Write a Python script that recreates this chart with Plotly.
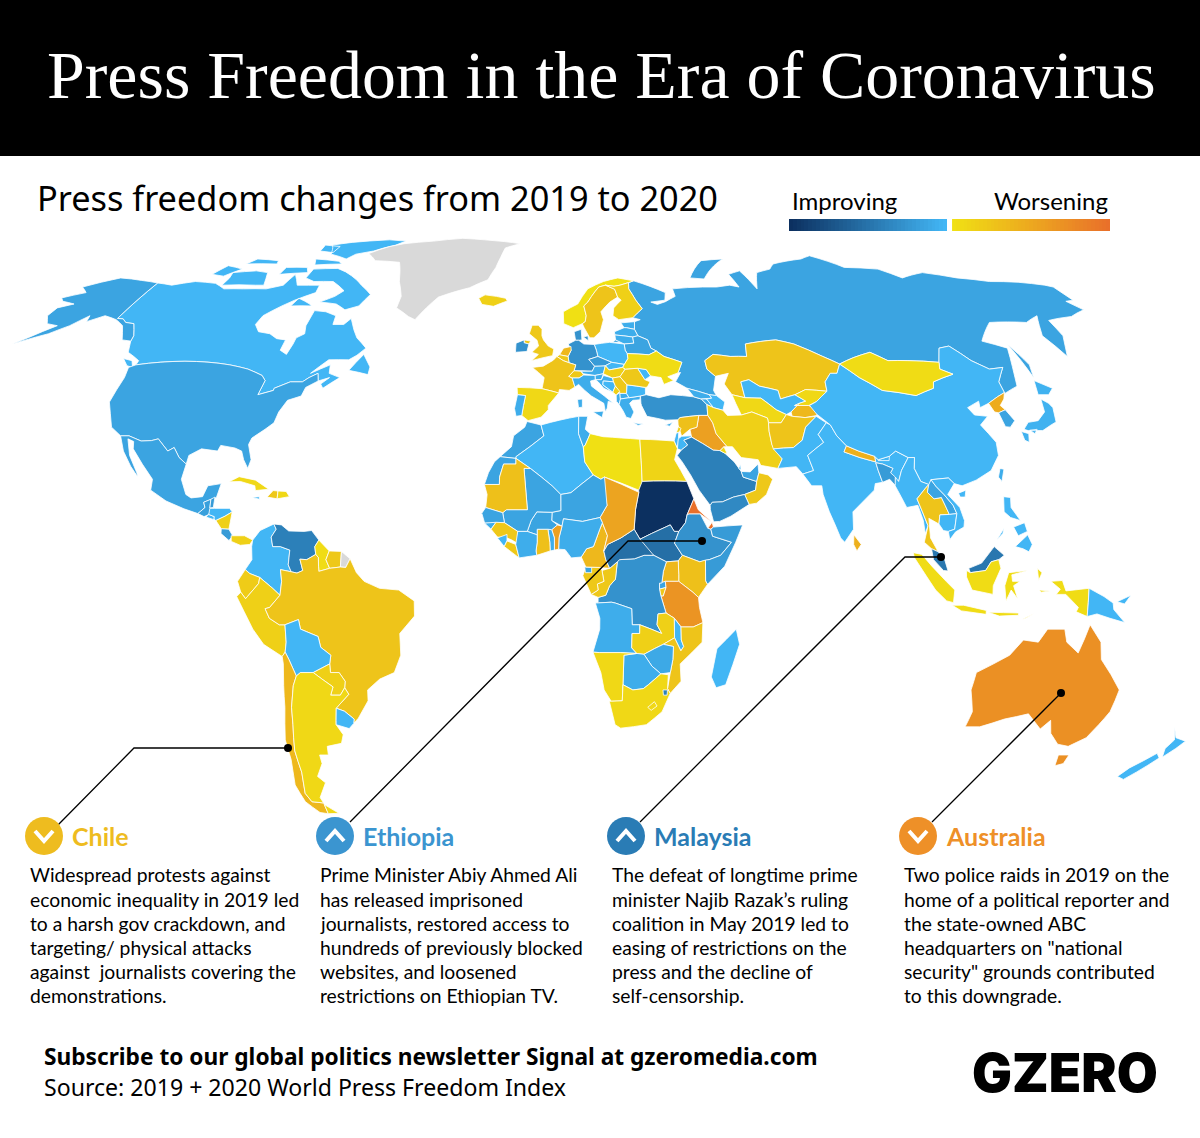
import plotly.graph_objects as go
from plotly.colors import sample_colorscale

W, H = 1200, 1138
IMPROVE_SCALE = [[0, "#42b6f5"], [1, "#0c3060"]]
WORSEN_SCALE = [[0, "#f0e014"], [1, "#e9702a"]]
NO_DATA = "#d9d9d9"

# estimated change per country, positive = improving, None = no data
CHANGE = {
    "Canada": 1, "United States": 3, "Mexico": 3, "Greenland": None, "Guatemala": 3.5, "Belize": 4, "El Salvador": 1,
    "Honduras": 1, "Nicaragua": -3, "Costa Rica": 4, "Panama": -3, "Cuba": -2, "Haiti": -4, "Dominican Republic": -2,
    "Jamaica": 1, "Colombia": 1, "Venezuela": 7, "Guyana": -1.5, "Suriname": -4, "French Guiana": None, "Ecuador": -3.5,
    "Peru": -3, "Brazil": -4.5, "Bolivia": 1, "Paraguay": -3, "Chile": -6, "Argentina": -2, "Uruguay": 1,
    "Iceland": -3, "Norway": -1, "Sweden": -4.5, "Finland": -3, "Denmark": 5, "Estonia": 2, "Latvia": 2, "Lithuania": 2,
    "Belarus": 3, "Poland": 1, "Germany": 5, "Netherlands": -6, "Belgium": -4, "France": -4.5, "Switzerland": -4,
    "Austria": 2, "Czechia": 4, "Slovakia": 1, "Hungary": -3, "Slovenia": 2, "Italy": 2, "Croatia": 2, "Bosnia": 1,
    "Serbia": -4, "Montenegro": -3, "Albania": 2, "North Macedonia": 2, "Greece": 2, "Bulgaria": 1, "Romania": -4,
    "Moldova": 1, "Ukraine": -1.5, "United Kingdom": -4, "Ireland": 5, "Spain": -2, "Portugal": 2, "Cyprus": 2,
    "Russia": 3, "Turkey": 5, "Georgia": 2, "Armenia": 2, "Azerbaijan": 1, "Kazakhstan": -4.5, "Uzbekistan": 1,
    "Turkmenistan": -2, "Kyrgyzstan": -2, "Tajikistan": -6, "Iran": -3, "Iraq": -9, "Syria": -5, "Lebanon": -3,
    "Israel": 1, "Jordan": 1, "Saudi Arabia": 7, "Kuwait": -2, "Qatar": 1, "UAE": 3, "Oman": -4, "Yemen": 6,
    "Afghanistan": -4.5, "Pakistan": 1, "India": 1, "Nepal": -7, "Bhutan": 1, "Bangladesh": 4, "Sri Lanka": -7,
    "China": 1, "Taiwan": 2, "Mongolia": -1.5, "North Korea": -7.5, "South Korea": 3, "Japan": 1.5, "Myanmar": 1,
    "Thailand": -4.5, "Laos": 3, "Cambodia": 1, "Vietnam": 1, "Malaysia": 8, "Indonesia": -1.5, "Papua New Guinea": 1,
    "Philippines": 1, "Australia": -11, "New Zealand": 1, "Madagascar": 1, "Morocco": 3, "Western Sahara": 3,
    "Algeria": 1, "Tunisia": 2, "Libya": -1, "Egypt": -2.5, "Sudan": 16, "South Sudan": 9, "Eritrea": -15,
    "Djibouti": -15, "Ethiopia": 5, "Somalia": 4, "Kenya": -5, "Uganda": -6, "Rwanda": 3, "Burundi": -4, "Tanzania": -10.5,
    "DR Congo": 5, "Congo": -4, "Gabon": -4, "Equatorial Guinea": 3, "Cameroon": -6, "Central African Rep.": 9,
    "Chad": -8.5, "Niger": 3, "Nigeria": 2, "Benin": -9, "Togo": 2, "Ghana": -5, "Burkina Faso": 3, "Mali": 3,
    "Mauritania": -5, "Senegal": 3, "Guinea-Bissau": 2, "Guinea": -4, "Sierra Leone": 1, "Liberia": -4,
    "Ivory Coast": 2, "Angola": 2, "Zambia": -3, "Malawi": 1, "Mozambique": -4.5, "Zimbabwe": 2.5, "Botswana": 2,
    "Namibia": -2, "South Africa": -2, "Lesotho": -2, "Eswatini": 7,
}

# rough country outlines as "lon,lat" rings, one string per ring
OUTLINES = {
    "Canada": [
        "-141,69.6 -135,69 -128,70 -120,69.5 -115,68 -108,68 -100,68 -95,69 -94,72 -90,69 -86,69 -82,69 -81.5,67 -87,65 -90,63.5 -94,61 -94.5,58.8 -92,57 -88,56.5 -85,55.3 -82,55 -82,52.5 -79.5,51.5 -79,54 -79,55.5 -77,56.5 -78,58.5 -78,62.3 -74,62 -70,61 -69.5,58.8 -66,58.8 -64.5,60.3 -62,57.5 -60,55.5 -56,53 -58,51.3 -60,50.2 -66,50.2 -70,47 -65,49 -64.5,47 -61,46 -65,43.5 -66,44.5 -64,46 -67,45.2 -67.8,47 -70,46 -71.5,45 -75,45 -79,43.5 -79,43 -83,42 -82.5,45.3 -84,46.5 -89,48 -95,49 -123,49 -123,50 -128,52 -130,54.7 -130.5,56 -134,59 -137,59.3 -139,60.2 -141,60.3",
        "-62,66.5 -64,63.5 -68,62.5 -72,64 -78,64.5 -74,66 -72,67.5 -78,70 -85,70 -89,71 -89,73.5 -80,73.7 -76,72.7 -70,70.5 -67,69",
        "-62,82.5 -70,83 -85,82 -92,81 -88,78 -80,76.5 -78,78 -72,79 -65,81",
        "-105,69 -117,69 -117,71 -118,72.5 -110,73 -105,72.5 -102,69",
        "-125,72 -120,71.5 -116,73.5 -123,74.5",
        "-80,75 -90,74.7 -92,76.5 -82,75.8",
        "-88,80.5 -95,81 -94,79 -88,78.5",
        "-105,75 -117,75 -115,76.5 -106,76",
        "-90,72.5 -100,72 -100,74 -92,74",
        "-80,63.5 -87,63.5 -86,65.5 -81,64",
        "-59,47.7 -53,46.7 -53,48.5 -56,51.5",
        "-128,50.5 -125,50 -123.5,48.4 -125.5,48.8",
    ],
    "United States": [
        "-123,49 -95,49 -89,48 -84,46.5 -82.5,45.3 -83,42 -79,43 -79,43.5 -75,45 -71.5,45 -70,46 -67.8,47 -67,45.2 -70,43.7 -70.5,41.7 -74,40.7 -75.5,38 -76,35.5 -78,34 -81,32 -81.5,30.5 -80,27 -80.5,25 -82,27 -83,29 -85,29.7 -89,30.3 -89.5,29 -94,29.5 -97,28 -97.2,26 -99.5,27.5 -101.5,29.8 -103,29 -106.5,31.8 -108.2,31.4 -111,31.3 -114.8,32.5 -117.1,32.5 -120.5,34.5 -122.5,37.7 -124.3,40.3 -124,46 -124.7,48.4",
        "-141,69.6 -141,60.3 -139,60.2 -137,59.3 -134,59 -130.5,56 -130,54.7 -133,55 -137,58.5 -141,60 -146,61 -150,59.5 -151,61 -154,58.5 -158,56.5 -163,55 -166,54 -163,55.6 -158,58.5 -162,59 -165,61 -165,63 -161,64 -166,64.7 -168,65.6 -162,67 -166,68.5 -157,71 -148,70.3",
    ],
    "Mexico": ["-117.1,32.5 -114.8,32.5 -111,31.3 -108.2,31.4 -106.5,31.8 -103,29 -101.5,29.8 -99.5,27.5 -97.2,26 -97.8,22.5 -96,19 -94.5,18.2 -91.5,18.5 -90.5,21 -87,21.5 -87.8,18.3 -89,17.9 -91,17.2 -90.5,16 -92.2,14.6 -96,15.7 -101,17.5 -105.5,20 -105.5,22.5 -109,26 -112.5,29.5 -113,31.2 -114.8,31.8 -113,28 -110,24 -109.5,23 -112,25.5 -115,29"],
    "Greenland": ["-73,78.2 -68,76 -58,75.5 -54,70 -51,66 -51,63 -46,60.8 -43.5,60 -41,63 -38,65.8 -28,68.3 -22,70.5 -20,74 -19,77 -18,80 -12,81.5 -28,83 -38,83.6 -50,82.5 -62,81.5 -67,80.5"],
    "Guatemala": ["-92.2,14.6 -90.5,16 -91,17.2 -89.2,17.9 -89.2,15.9 -88.3,15.7 -89.5,14.3 -90.5,13.9"],
    "Belize": ["-89.2,17.9 -88.2,18.4 -88.3,16 -89.2,15.9"],
    "El Salvador": ["-90,13.8 -89.3,14.4 -87.8,13.9 -87.8,13.2"],
    "Honduras": ["-89.3,14.4 -89.2,15.8 -88,15.8 -84,15.8 -83.2,15 -85,14 -87.3,13 -87.8,13.3 -87.8,13.9"],
    "Nicaragua": ["-87.3,13 -85,14 -83.2,15 -83.7,11 -85.7,11.1"],
    "Costa Rica": ["-85.7,11.1 -83.7,11 -82.6,9.5 -83.5,8.4 -85.7,10"],
    "Panama": ["-83,9.5 -82.9,8.2 -80.5,7.3 -78,7.5 -77.3,8.5 -79.5,9.5"],
    "Cuba": ["-85,21.9 -82.5,23.1 -78,22.3 -74.2,20.2 -77.7,19.9 -78,21 -82,22"],
    "Haiti": ["-74.4,18.4 -71.7,18 -71.7,19.8 -73,19.9"],
    "Dominican Republic": ["-71.7,18 -68.5,18.5 -69.5,19.7 -71.7,19.8"],
    "Jamaica": ["-78.4,18.3 -76.3,17.9 -76.5,18.5"],
    "Colombia": ["-77.3,8.5 -75.5,10.7 -72,12.2 -71.3,11 -72.5,9.2 -72,7 -70,7 -67.5,6.2 -67.8,2.8 -67,1.2 -69.8,1.7 -69.5,-1 -70,-4.2 -72,-2.5 -75.2,-0.1 -77.8,0.8 -79,1.7 -77.3,4 -77.5,7"],
    "Venezuela": ["-72,12.2 -70,12 -68,10.6 -64,10.5 -62,10.7 -60,8.5 -61,7 -60.7,5.2 -63,4 -64.8,4.1 -64,1.5 -65.5,0.9 -67,1.2 -67.8,2.8 -67.5,6.2 -70,7 -72,7 -72.5,9.2 -71.3,11"],
    "Guyana": ["-60,8.5 -57.2,6 -58,4 -57,2 -59.8,1.3 -59.9,2.5 -60,4.5 -60.7,5.2 -61,7"],
    "Suriname": ["-57.2,6 -54,5.9 -54.2,2.3 -57,2 -58,4"],
    "French Guiana": ["-54,5.9 -51.7,4.2 -52.8,2.2 -54.2,2.3"],
    "Ecuador": ["-80.2,-3.5 -81,-1 -79,1.7 -77.8,0.8 -75.2,-0.1 -75.5,-1.5 -78.5,-4.5 -79,-5"],
    "Peru": ["-81.3,-4.5 -80.2,-3.5 -79,-5 -78.5,-4.5 -75.5,-1.5 -75.2,-0.1 -72,-2.5 -70,-4.2 -72.8,-7 -74,-7.3 -73,-9.5 -70.5,-11 -69,-11 -69,-15 -69.5,-17.3 -70.4,-18.3 -75,-15.5 -77.5,-12 -79.5,-8"],
    "Brazil": ["-51.7,4.2 -50,1 -48,-1 -44,-2.6 -39,-3 -35,-5.5 -35,-9 -39,-13 -39,-18 -41,-22 -45,-23.5 -48.5,-26 -48.7,-28.5 -52,-32.5 -53.5,-33.7 -53.2,-32.7 -55.5,-30.9 -57.6,-30.2 -53.7,-27 -54.6,-25.5 -54.3,-24 -55.7,-22 -58,-22 -58,-20 -57.5,-18 -60,-16.2 -60.5,-13.7 -65,-12 -65.4,-9.8 -69,-11 -70.5,-11 -73,-9.5 -74,-7.3 -72.8,-7 -70,-4.2 -69.5,-1 -69.8,1.7 -67,1.2 -65.5,0.9 -64,1.5 -64.8,4.1 -63,4 -60.7,5.2 -60,4.5 -59.9,2.5 -59.8,1.3 -57,2 -54.2,2.3 -52.8,2.2"],
    "Bolivia": ["-69,-11 -65.4,-9.8 -65,-12 -60.5,-13.7 -60,-16.2 -57.5,-18 -58,-20 -62.6,-22 -66,-22 -67.2,-22.8 -68.7,-19 -69.5,-17.3 -69,-15"],
    "Paraguay": ["-58,-20 -58,-22 -55.7,-22 -54.3,-24 -54.6,-25.5 -56,-27.2 -58.6,-27.2 -57.7,-25.3 -62.6,-22"],
    "Chile": ["-69.5,-17.3 -68.7,-19 -67.2,-22.8 -68.3,-25 -69.7,-30 -70.3,-34 -71,-37 -71.7,-40 -71.7,-45 -73,-50 -72,-52 -68.6,-52.3 -68.6,-54.9 -71,-54.6 -74,-52 -75,-48 -73.5,-42 -73.5,-37.5 -71.5,-30 -70.3,-20 -70.4,-18.3"],
    "Argentina": [
        "-66,-22 -62.6,-22 -57.7,-25.3 -58.6,-27.2 -56,-27.2 -54.6,-25.5 -53.7,-27 -57.6,-30.2 -58.2,-33 -58.4,-34 -57,-36.3 -58,-38.3 -62.2,-39 -62.5,-41 -65,-41 -65,-43 -67.5,-46 -65.8,-47.5 -69,-51 -68.6,-52.3 -72,-52 -73,-50 -71.7,-45 -71.7,-40 -71,-37 -70.3,-34 -69.7,-30 -68.3,-25 -67.2,-22.8",
        "-68.6,-52.7 -65.2,-54.8 -68.6,-54.9",
    ],
    "Uruguay": ["-57.6,-30.2 -55.5,-30.9 -53.2,-32.7 -53.5,-33.7 -55,-34.9 -58.4,-34 -58.2,-33"],
    "Iceland": ["-24,65.5 -22,66.4 -18,66 -14.7,65.5 -14,64.8 -18.5,63.4 -22.5,63.9"],
    "Russia": [
        "28,59.5 30,60 27.7,60.5 31.5,62.8 30,65 28.5,68 29,69.7 31,70.2 41,67 40,65 35,64.5 37,63.9 40,64.6 44,66 44,68 55,68.5 60,68.5 65,69 68,68.5 67,72 72,73 74,68 78,72.5 84,73.5 87,75 100,76.5 105,77.5 113,74 125,73.5 130,71 140,72.5 150,71 160,70 170,69.8 178,69 180,68.5 180,65 177,64.7 179,62.5 172,60.8 163,59.8 162,56 157,51 155.5,56 161,61 155,59.3 143,59.3 135,54.7 141,53 135.5,44 130.7,42.3 131,45 135,48.4 130.7,48 127,50 123.5,53.5 120,53 117,49.6 108,50 102,50 98,52 92,50.7 87,49.2 83,51 76,54 71,55 61,54 60,51 55,51 50,51.5 47,50 47,48 49,46.3 47.5,43 48,41.8 46,42 40,43.5 37,45 39,47.2 38.2,47.1 40,49.6 35,51 33,52.3 31.5,53 31,55 28.2,56 27.5,57.6",
        "20,54.4 22.8,54.4 21,55",
        "142,54 143.5,49 142,46 142,50",
        "52,71 57,70.7 69,76.5 60,76",
    ],
    "Norway": ["5,59 5,62 10,64 14,68 20,70 25.5,71 31,70.2 29,69.7 25.7,69 23.5,68.7 20.5,69 18,68.5 15,66 13.5,64.5 12,63.5 12.5,61 12,59.5 11,59 8,58"],
    "Sweden": ["11,59 12,59.5 12.5,61 12,63.5 13.5,64.5 15,66 18,68.5 20.5,69 23.5,67.9 24,65.8 21,64.5 17.5,62 18,60 16.5,57 14.3,55.5 13,55.5 11.5,58"],
    "Finland": ["23.5,68.7 25.7,69 29,69.7 28.5,68 30,65 31.5,62.8 27.7,60.5 23,60 21.3,61 22,63 25,65 24,65.8 23.5,67.9 20.5,69"],
    "Denmark": ["8.2,57 10.5,57.6 10.5,55 9.5,54.9 8.5,54.9", "11,55.7 12.5,56 12.5,54.8"],
    "Estonia": ["23.5,59.2 28,59.5 27.5,57.6 25,58 24.3,58"],
    "Latvia": ["21,57 24.3,58 25,58 27.5,57.6 28.2,56 26.5,55.7 21,56.2"],
    "Lithuania": ["21,56.2 26.5,55.7 26.5,54.2 23.5,54 21,55"],
    "Belarus": ["23.5,54 26.5,54.2 26.5,55.7 28.2,56 31,55 31.5,53 33,52.3 30.5,51.4 24,51.7 23.5,52.5"],
    "Poland": ["14.2,53.9 19,54.4 23.5,54 23.5,52.5 24,51.7 24,50.5 22.7,49.1 19,49.6 15,51 14.7,52.5"],
    "Germany": ["6.2,54 8.5,54.9 9.5,54.9 11,54 14.2,53.9 14.7,52.5 15,51 12.2,50.3 13.8,48.7 13,47.5 7.6,47.6 8.2,49 6.2,49.5 6,51 7,52.5"],
    "Netherlands": ["3.4,51.4 4.7,53 7,53.4 7,52.5 6,51"],
    "Belgium": ["2.6,51 3.4,51.4 6,51 6.2,49.5 4.5,50"],
    "France": ["-1.8,43.4 -1.2,46 -4.7,48.4 -1.5,48.7 1.5,50.1 2.6,51 4.5,50 6.2,49.5 8.2,49 7.6,47.6 6,46.3 7,45.9 7.7,43.8 6,43 3.2,43.2 3,42.4"],
    "Switzerland": ["6,46.3 7.6,47.6 9.6,47.5 10.4,46.6 9,45.9 7,45.9"],
    "Austria": ["9.6,47.5 13,47.5 13.8,48.7 17,48.8 16.2,46.9 13.7,46.5 10.4,46.9"],
    "Czechia": ["12.2,50.3 15,51 19,49.6 17,48.8 13.8,48.7"],
    "Slovakia": ["17,48.8 19,49.6 22.7,49.1 22.1,48.4 18,47.8"],
    "Hungary": ["16.2,46.9 17,48.8 18,47.8 22.1,48.4 22.8,48 21,46.2 18.8,45.9"],
    "Slovenia": ["13.7,46.5 16.2,46.9 15.5,45.5 13.7,45.5"],
    "Italy": [
        "7.7,43.8 7,45.9 9,45.9 10.4,46.6 13.7,46.5 13.7,45.5 12.3,45.2 12.5,44 16,41.7 18.4,40 17,40.5 16.6,38.9 16,38 15.7,40 12.3,41.7 10.5,43 8.8,44.4",
        "12.5,38 15.5,38.2 15,36.7",
        "8.3,40.9 9.7,41 9.6,39.1 8.5,39",
    ],
    "Croatia": ["13.7,45.5 15.5,45.5 16.2,46.5 18.8,45.9 19,45 16,45.2 15.8,44.3 18.5,42.5 16,43.5 14.5,45"],
    "Bosnia": ["16,45.2 19,45 19.4,44 18.5,42.6 15.8,44.3"],
    "Serbia": ["18.8,45.9 21,46.2 22.8,44.3 22.4,42.3 20.5,42.3 19.4,44 19,45"],
    "Montenegro": ["18.5,42.6 19.4,44 20.5,42.8 19.4,41.9"],
    "Albania": ["19.4,41.9 20.5,42.5 20.5,40.8 20,39.7 19.3,40.5"],
    "North Macedonia": ["20.5,42.3 22.4,42.3 23,41.3 20.5,41"],
    "Greece": ["20,39.7 20.5,41 23,41.3 26.3,41.7 26,40.8 24,40.7 23,40 24,38 23,36.5 21.7,36.8 21,38.2", "23.6,35.5 26.3,35.2 24.8,34.9"],
    "Bulgaria": ["22.4,42.3 22.8,44.3 28,43.7 27.8,42 26.3,41.7 23,41.3"],
    "Romania": ["21,46.2 22.8,48 26.5,48.2 28.2,45.5 29.6,45 28.6,43.8 28,43.7 22.8,44.3"],
    "Moldova": ["26.5,48.2 29,47.9 30,46.4 28.2,45.5"],
    "Ukraine": ["22.1,48.4 22.7,49.1 24,50.5 24,51.7 30.5,51.4 33,52.3 35,51 40,49.6 38.2,47.1 35,46.2 36.5,45.3 33.5,44.4 33,46 30,46.4 29,47.9 26.5,48.2 22.8,48"],
    "United Kingdom": ["-5,50 1.3,51.2 1.7,52.8 0,53.5 -1.5,55 -2,56 -2,57.6 -3.2,58.6 -5.2,58.6 -6,56.5 -3.5,54.9 -3,53.5 -5,52 -3,51.5", "-7.5,55 -5.5,54.7 -6,54 -7.5,54.3"],
    "Ireland": ["-10,52 -6.5,52.2 -6,54 -7.5,54.3 -7.5,55 -10,54.2"],
    "Spain": ["-9,43.7 -1.8,43.4 3,42.4 0,39.5 0,38.5 -2,36.8 -5.6,36 -7.4,37.2 -7,39.5 -6.5,41.8 -8.8,42"],
    "Portugal": ["-8.8,42 -6.5,41.8 -7,39.5 -7.4,37.2 -9,37 -9.5,38.8"],
    "Cyprus": ["32.3,35 34.5,35.6 33.5,34.7"],
    "Turkey": ["26.3,41.7 28,42 31.5,41.3 35,42 41.5,41.5 43.5,41 44.8,39.7 44.5,37.2 42,37.2 36.7,36.7 36,36.2 32.5,36.1 30.5,36.5 27.5,37 26.3,39.5 26.2,40"],
    "Georgia": ["40,43.5 46,42 46.5,41.2 43.5,41 41.5,41.5"],
    "Armenia": ["43.5,41 45,41 46.5,39 44.8,39.7"],
    "Azerbaijan": ["45,41 46.5,41.2 46,42 48,41.8 50,40.3 49,38.4 46.5,39"],
    "Kazakhstan": ["47,50 50,51.5 55,51 60,51 61,54 71,55 76,54 83,51 87,49.2 85,47 83,47 80.5,45 80,42.8 74,43.2 70.5,42 66,41 66,43 61,44 58.5,45.5 56,45 56,41.3 52.5,42 51,44.5 53,47 49,46.3 47,48"],
    "Uzbekistan": ["56,45 58.5,45.5 61,44 66,43 66,41 70.5,42 73,40.5 71,40 68,38 66.5,37.4 64,38.5 60.5,41.2 56,41.3"],
    "Turkmenistan": ["52.5,42 56,41.3 60.5,41.2 64,38.5 66.5,37.4 64.5,35.5 61,35.5 61,36.6 57,38 53.9,37.3 53,40"],
    "Kyrgyzstan": ["70.5,42 74,43.2 80,42.8 76,40.4 73.5,39.5 69.5,39.5 71,40 73,40.5"],
    "Tajikistan": ["68,38 71,40 69.5,39.5 73.5,39.5 75,38.5 75,37.2 71.5,36.7 68,37"],
    "Iran": ["44.8,39.7 46.5,39 49,38.4 50,37.2 53.9,37.3 57,38 61,36.6 61,35.5 60.7,33.5 60.8,30.5 63,27.2 61.5,25 57,25.7 56.5,27 52,27.5 50,30 48.5,30 46,33 45.5,35.5 44.5,37.2"],
    "Iraq": ["42,37.2 44.5,37.2 45.5,35.5 46,33 48.5,30 47.7,30 46.5,29.1 44.7,29.2 39.2,32.2 39,34 41,34.5"],
    "Syria": ["36,36.2 36.7,36.7 42,37.2 41,34.5 39,34 36.5,32.4 35.9,35"],
    "Lebanon": ["35.1,33.1 35.9,34.6 36.6,34.2 36,33.4"],
    "Israel": ["34.3,31.3 35,29.6 35.5,31.5 35.8,33.3 35.1,33.1"],
    "Jordan": ["35,29.5 36,29.2 37.9,30.4 37,31.5 39.2,32.2 39,32.5 36.5,32.4 35.5,31.8"],
    "Saudi Arabia": ["36,29.2 37.9,30.4 37,31.5 39.2,32.2 44.7,29.2 46.5,29.1 47.7,28.5 50,26.5 51.6,24.3 52,23 55.5,22 55,20 52,19 49,18.4 46,17.3 43.3,17.2 42.7,16.5 40,20 38,23.5 36,26.5 34.8,28"],
    "Kuwait": ["46.5,29.1 47.7,30 48.3,28.5 47.7,28.5"],
    "Qatar": ["51,25 51.6,26 51.6,24.6"],
    "UAE": ["51.6,24.3 54,24.2 56.3,26 56.3,24 55.5,22 52,23"],
    "Oman": ["56.3,24 58.7,23.5 59.8,22.5 57.8,19 55,17 53,16.7 52,19 55,20 55.5,22"],
    "Yemen": ["43.3,17.2 46,17.3 49,18.4 52,19 53,16.7 48,14 45,12.8 43.4,12.7 42.7,15.5 42.7,16.5"],
    "Afghanistan": ["61,35.5 64.5,35.5 66.5,37.4 68,37 71.5,36.7 74.7,37 71,34.5 69.3,31.5 66.5,29.8 61,29.5 60.8,30.5 60.7,33.5"],
    "Pakistan": ["61,29.5 66.5,29.8 69.3,31.5 71,34.5 74.7,37 77,35.5 74,32.8 75,31 70,28 71,24.5 68,23.7 66.5,25.4 61.5,25 63,27.2"],
    "India": ["77,35.5 74,32.8 75,31 70,28 71,24.5 68,23.7 70,21 72.7,21 72.8,19 74,15 76.5,9 77.5,8 80,11 80.2,15 86.5,20 87,21.5 89,21.8 88.3,24.5 88,26.3 89.8,26 92.3,25 91.5,24 92,23 93.3,22 94.5,24.5 97,27.5 94,29 92,27.8 88.8,27 88,27.8 88,26.5 84,27.5 80,28.8 81,30.2 79,32.5 78,35"],
    "Nepal": ["80,28.8 84,27.5 88,26.5 88,27.8 84,29 81,30.2"],
    "Bhutan": ["88.8,27 92,27.8 91.7,26.8 88.8,26.8"],
    "Bangladesh": ["88.3,24.5 89,21.8 91,22.5 92.3,21 92.6,23 91.5,24 92.3,25 89.8,26 88,26.3"],
    "Sri Lanka": ["80,9.7 81.8,7.5 80.6,6 79.8,7.5"],
    "China": [
        "73.7,39.5 76,40.4 80,42.8 80.5,45 83,47 85,47 87,49.2 91,46 96,43 105,41.8 111,43.5 112,45 119,46.8 116,48 117,49.6 120,53 123.5,53.5 127,50 130.7,48 135,48.4 131,45 130.7,42.5 128,41.5 124.5,40 121.5,39 122,40.5 118,39 119,37.3 122.5,37 119.5,35 122,31 121.5,28 118.5,24.5 114,22.3 110,21 108,21.5 106.7,22.8 102,22.4 101.3,21.2 99.2,22 98,25 98.7,27.5 97,27.5 94,29 92,27.8 88.8,27 88,27.8 84,29 81,30.2 79,32.5 78,35 75,37.5",
        "108.7,19.3 110.8,20 110.3,18.4 109,18.4",
    ],
    "Taiwan": ["121,25 122,24.8 120.8,22 120.1,23"],
    "Mongolia": ["87,49.2 92,50.7 98,52 102,50 108,50 117,49.6 116,48 119,46.8 112,45 111,43.5 105,41.8 96,43 91,46"],
    "North Korea": ["124.5,40 128,41.5 130.7,42.5 129.5,41 127.5,39.5 128.3,38.5 126,37.8 125,38"],
    "South Korea": ["126,37.8 128.3,38.5 129.5,36 127.5,34.5 126.2,34.6"],
    "Japan": [
        "131,34 133,35.6 136,36 139,38 140,41 141.5,40 142,39 140.8,35.7 139,35 136,33.7 132,33.7",
        "140,42 141.5,45.3 145.3,43.5 143,42",
        "130,33.5 131.8,33 131,31 130,31.5",
        "132.5,33.8 134.6,34 133.5,33",
    ],
    "Myanmar": ["92.2,21 94.5,16 97.5,16.5 98.5,13 98.7,10 99.6,11.8 98.5,15 97.5,18 100,20.3 101.2,21.3 99.2,22 98,25 98.7,27.5 97,27.5 94.5,24.5 93.3,22 92.6,23"],
    "Thailand": ["100,20.3 97.5,18 98.5,15 99.6,11.8 98.3,8 100.1,6.5 101.8,5.8 100,9 100,13.5 102.5,12.2 103,14.3 105.5,14.4 104.7,16.5 104,18.3 102,18 100.5,19.5 101.2,21.3"],
    "Laos": ["101.2,21.3 102,22.4 103,20.9 104.8,19 106.8,16.5 107.5,14.6 105.5,14.4 104.7,16.5 104,18.3 102,18 100.5,19.5"],
    "Cambodia": ["102.5,12.2 103,14.3 105.5,14.4 107.5,14.6 106.5,11 104.8,10.5 103.5,10.7"],
    "Vietnam": ["102,22.4 106.7,22.8 108,21.5 105.8,19 108.5,16 109.3,13 109,11.5 106.7,10.4 105,8.6 104.8,10.5 106.5,11 107.5,14.6 106.8,16.5 104.8,19 103,20.9"],
    "Malaysia": ["100.1,6.5 101.8,5.8 103.4,4 104.2,1.4 103,1.5 100.5,4", "109.6,2 113,3.2 116.5,7 119,5 117.5,4 115.5,3.5 114,1.5 110,1"],
    "Indonesia": [
        "95.3,5.6 97.5,5.2 100,2.5 103.7,-1 106,-3 105.8,-5.9 104,-5.5 101,-3 98.7,0 95.5,4.5",
        "105.5,-6.5 108.5,-6.5 114.5,-7.7 114.5,-8.6 108,-7.8",
        "109,1.5 110,1 114,1.5 115.5,3.5 117.5,4 118,2 116,-2 116,-4 110.5,-3 109,0",
        "119.5,-5.5 119,-2 120,1 125,1.5 120.8,0.5 121,-1 123,-1 121.3,-2 122.5,-5 120.7,-3",
        "131,-1 134,-0.8 135,-3.2 141,-2.6 141,-9.1 138,-8 138.5,-7 135,-4 132.5,-4 133.5,-2.8",
        "115,-8.1 119,-8.2 123,-8.3 123,-8.8 118,-9",
        "124,-9.8 127,-8.4 125,-9.5",
        "127.5,2 128.7,1 127.8,-0.8",
        "128,-3 130.8,-3.2 128.5,-3.5",
    ],
    "Papua New Guinea": ["141,-2.6 145,-4.5 147.5,-6 147.8,-7.5 151,-10.5 147,-9.5 143.5,-8.5 141,-9.1", "148.5,-5.7 152,-4.2 150.5,-6.2"],
    "Philippines": [
        "120.5,18.5 122.3,18.3 122,16 124,13 121.5,13.7 120,15",
        "122,7 125.5,9.7 126.5,7.5 125.5,5.8 124,6.5",
        "122,11.5 125,12.5 125.5,10.5 123,9.5",
        "117.3,8.5 119.5,11.3 119,10",
    ],
    "Australia": [
        "131,-12 135.5,-12 136.5,-15 140,-17.5 142,-11 145.5,-15 146.5,-19 150,-22.5 153.3,-26 153,-31 150,-37 146.3,-39 143,-38.5 139.5,-36 137.8,-33 136,-35 131,-31.5 125,-32.7 119,-34.5 115,-34.5 115.5,-31 113.5,-26 114,-22 122,-18 125,-14.5 129,-15",
        "145,-41 148,-41 148,-43 146,-43.5",
    ],
    "New Zealand": ["172.8,-34.5 175,-37 178.3,-37.8 177,-39.5 175,-41.5 174,-39.5 175,-37.5", "172.7,-40.6 174.3,-41.7 171,-45 169,-46.7 166.5,-46 168,-44"],
    "Madagascar": ["49.3,-12 50.4,-15.5 47.5,-24.8 45,-25.5 43.5,-23 44.5,-16.5"],
    "Morocco": ["-5.9,35.8 -2,35 -1.2,32.5 -5,30 -8.7,27.7 -8.7,27.3 -13,27.7 -10,30 -9.5,32.5 -6.5,34.5"],
    "Western Sahara": ["-13,27.7 -8.7,27.3 -8.7,26 -12,26 -13,23 -13,21.3 -17,21.3 -16,24 -14.5,26.5"],
    "Algeria": ["-2,35 8.5,37 8.3,33 9.5,30 9.8,26.5 12,23.5 6,19.4 3.3,19 1,21 -4.8,25 -8.7,27.3 -8.7,27.7 -5,30 -1.2,32.5"],
    "Tunisia": ["8.5,37 11,37 10.2,34 11.5,33 10,30.3 9.5,30 8.3,33"],
    "Libya": ["11.5,33 15,32.3 20,32 25,31.7 25,20 24,19.5 24,20 15,23 14,22.5 12,23.5 9.8,26.5 9.5,30 10,30.3"],
    "Egypt": ["25,31.7 31,31.5 34.3,31.3 35,29.6 34,27 36.9,22 25,22"],
    "Sudan": ["25,22 36.9,22 38.5,18 36.5,14.3 36,12.5 34.2,10.5 33,10.5 32,12 27,10 24,8.7 22.5,11 23,15.6 24,19.5 24,20"],
    "South Sudan": ["24,8.7 27,10 32,12 33,10.5 34.2,10.5 33,7.8 35,5 33.9,3.7 30.8,3.5 27.5,5 25,5"],
    "Eritrea": ["36.5,14.3 38.5,18 39.5,15.5 43,12.6 40,14.5 37,14.5"],
    "Djibouti": ["41.8,11.2 43,12.6 43.3,11.5 42.6,11"],
    "Ethiopia": ["36,12.5 36.5,14.3 37,14.5 40,14.5 41.8,11.2 42.6,11 43,9.4 47.9,8 45,5 42,4 39.5,3.5 35,5 33,7.8 34.2,10.5"],
    "Somalia": ["43.3,11.5 51,12 49,8 46,2.5 41.5,-1.7 41,-0.9 41,3.9 42,4 45,5 47.9,8 43,9.4 42.6,11"],
    "Kenya": ["33.9,3.7 35,5 39.5,3.5 41,3.9 41,-0.9 41.5,-1.7 39.2,-4.7 37.7,-3.5 34,-1 34,0.5"],
    "Uganda": ["30.8,3.5 33.9,3.7 34,0.5 34,-1 30.5,-1 29.6,-1.4 30,1.3"],
    "Rwanda": ["29,-1.4 30.5,-1 30.7,-2.4 29,-2.8"],
    "Burundi": ["29,-2.8 30.7,-2.4 30,-4.4 29.4,-4.4"],
    "Tanzania": ["30.5,-1 34,-1 37.7,-3.5 39.2,-4.7 39.5,-7 40.5,-10.5 38,-11.5 34.8,-11.5 33,-9.5 30.8,-8.3 29.4,-4.4 30,-4.4 30.7,-2.4"],
    "DR Congo": ["12.3,-6 13,-5.8 13,-4.7 15,-4.2 16,-2 17.5,-0.5 18,3.5 18.6,4 22.5,4.2 25,5 27.5,5 30.8,3.5 30,1.3 29.6,-1.4 29,-1.4 29,-2.8 29.4,-4.4 30.8,-8.3 28.7,-8.5 28.5,-11 29.8,-13 27,-12 24,-11 22,-11 21.8,-7.3 17.5,-6 16.5,-5.8"],
    "Congo": ["11.2,-4 13,-4.7 15,-4.2 16,-2 17.5,-0.5 18,3.5 16,2 14,1.5 14.5,-1 12.8,-1.6 13,-3"],
    "Gabon": ["9,0.3 9.8,2.3 13.3,2.2 14,1.5 14.5,-1 12.8,-1.6 13,-3 11.2,-4"],
    "Equatorial Guinea": ["9.5,2.3 9.7,1 11.3,1 11.3,2.2"],
    "Cameroon": ["8.6,4.6 9.8,2.3 13.3,2.2 16,2 15,4 14.5,6 15.5,9.5 14.2,12.5 15,12 14.5,13 13.5,11 11.8,7 10,6.5"],
    "Central African Rep.": ["14.5,6 15,4 16,2 18,3.5 18.6,4 22.5,4.2 25,5 27.5,5 24,8.7 22.5,11 19,9 15.5,7.5"],
    "Chad": ["15,23 24,19.5 23,15.6 22.5,11 19,9 15.5,7.5 14.5,6 15.5,9.5 14.2,12.5 13.6,13.7 15.5,16.5 14,22.5"],
    "Niger": ["12,23.5 14,22.5 15,23 15.5,16.5 13.6,13.7 9,12.8 4,13.4 3.6,11.7 0.9,13 1,14.9 3.3,15.3 3.3,19 6,19.4"],
    "Nigeria": ["2.7,6.4 2.8,9 3.6,11.7 4,13.4 9,12.8 13.6,13.7 14.2,12.5 13.5,11 11.8,7 10,6.5 8.6,4.6 6,4.4 4.4,6.3"],
    "Benin": ["1.6,6.2 2.7,6.4 2.8,9 3.6,11.7 2.4,12 0.9,10.9 1.6,9"],
    "Togo": ["0.5,6 1.6,6.2 1.6,9 0.9,10.9 -0.1,11 0.4,8"],
    "Ghana": ["-3,5 0.5,6 0.4,8 -0.1,11 -2.9,11 -2.9,8 -3.2,6"],
    "Burkina Faso": ["-5.5,10.5 -2.9,9.7 -2.9,11 -0.1,11 0.9,10.9 2.4,12 0.9,13 1,14.9 -3,15 -4.5,13"],
    "Mali": ["-12,14.8 -11.5,12.5 -8,10.5 -5.5,10.5 -4.5,13 -3,15 1,14.9 3.3,15.3 3.3,19 1,21 -4.8,25 -6.5,25 -5.5,15.5 -11,15.5"],
    "Mauritania": ["-17,21.3 -13,21.3 -13,23 -12,26 -8.7,26 -8.7,27.3 -4.8,25 -6.5,25 -5.5,15.5 -11,15.5 -12,14.8 -16.5,16 -16.2,19"],
    "Senegal": ["-17.5,14.7 -16.5,16 -12,14.8 -11.5,12.5 -16.7,12.4"],
    "Guinea-Bissau": ["-16.7,12.4 -13.7,12.6 -15,11"],
    "Guinea": ["-15,11 -13.7,12.6 -11.5,12.5 -8,10.5 -8,7.7 -9.5,8.5 -10.8,9 -13.3,9.2"],
    "Sierra Leone": ["-13.3,9 -10.8,9.8 -10.8,8.3 -11.5,7"],
    "Liberia": ["-11.5,7 -10.8,8.3 -8.5,7.5 -7.6,4.4"],
    "Ivory Coast": ["-7.6,4.4 -8.5,7.5 -8,10.5 -5.5,10.5 -2.9,9.7 -2.9,8 -3.2,6 -3,5"],
    "Angola": ["12.3,-6 16.5,-5.8 17.5,-6 21.8,-7.3 22,-11 24,-11 24,-13 22,-13 22,-16.3 23.4,-17.6 19,-17.4 13.5,-17.4 11.8,-17.3 13.5,-12 13.5,-9.5"],
    "Zambia": ["22,-13 24,-13 24,-11 27,-12 29.8,-13 28.5,-11 28.7,-8.5 30.8,-8.3 33,-9.5 33.2,-14 30.3,-15.5 28,-16.5 25.3,-17.8 23.4,-17.6 22,-16.3"],
    "Malawi": ["33,-9.5 34.8,-11.5 35,-14.5 35.7,-16 35,-17 33.2,-14"],
    "Mozambique": ["34.8,-11.5 38,-11.5 40.5,-10.5 40.5,-15 35,-20 35.5,-24 32.8,-26.8 32,-25.7 32.5,-22 33,-19 33,-16 30.3,-15.5 33.2,-14 35,-17 35.7,-16 35,-14.5"],
    "Zimbabwe": ["25.3,-17.8 28,-16.5 30.3,-15.5 33,-16 33,-19 32.5,-22 30,-22.3 27.5,-20.5"],
    "Botswana": ["20,-18 23.4,-17.6 25.3,-17.8 27.5,-20.5 30,-22.3 26.8,-24.8 25.5,-25.7 22.7,-26 20,-24.8"],
    "Namibia": ["11.8,-17.3 13.5,-17.4 19,-17.4 23.4,-17.6 20,-18 20,-28.5 17,-28.6 15,-26 14,-22"],
    "South Africa": ["16.5,-28.6 17,-28.6 20,-28.5 20,-24.8 22.7,-26 25.5,-25.7 26.8,-24.8 30,-22.3 32,-22.5 32,-25.7 32.8,-26.8 31,-31 27,-34 20,-34.8 18.4,-34"],
    "Lesotho": ["27,-30 28.7,-28.7 29.5,-29.7 28,-30.7"],
    "Eswatini": ["30.8,-26 32,-26 32,-27.2 31,-27.2"],
}

# callout stories
STORY_NAMES = ["Chile", "Ethiopia", "Malaysia", "Australia"]
STORY_COLORS = ["#eebc1f", "#3b95d0", "#2a7cb5", "#ee9028"]
STORY_UP = [False, True, True, False]
STORY_TEXT = [
    ["Widespread protests against", "economic inequality in 2019 led", "to a harsh gov crackdown, and",
     "targeting/ physical attacks", "against  journalists covering the", "demonstrations."],
    ["Prime Minister Abiy Ahmed Ali", "has released imprisoned", "journalists, restored access to",
     "hundreds of previously blocked", "websites, and loosened", "restrictions on Ethiopian TV."],
    ["The defeat of longtime prime", "minister Najib Razak’s ruling", "coalition in May 2019 led to",
     "easing of restrictions on the", "press and the decline of", "self-censorship."],
    ["Two police raids in 2019 on the", "home of a political reporter and", "the state-owned ABC",
     "headquarters on \"national", "security\" grounds contributed", "to this downgrade."],
]
CIRCLE_X = [44, 335, 626, 918]
NAME_X = [72, 363, 654, 946]
BODY_X = [30, 320, 612, 904]
BODY_Y = [875, 899, 923, 947, 971, 995]
LEADERS = [
    [(288, 748), (134, 748), (57, 826)],
    [(702, 541), (628, 541), (350, 822)],
    [(941, 557), (905, 557), (640, 822)],
    [(1061, 693), (932, 822)],
]


def px(x):
    return x / W


def py(y):
    return 1 - y / H


def country_color(value):
    if value is None:
        return NO_DATA
    if value > 0:
        return sample_colorscale(IMPROVE_SCALE, [(value - 1) / 15])[0]
    return sample_colorscale(WORSEN_SCALE, [(-value - 1) / 14])[0]


def ring_coords(ring):
    pts = [tuple(float(v) for v in p.split(",")) for p in ring.split()]
    # d3 wants clockwise rings, otherwise it fills the rest of the sphere
    area = sum(a[0] * b[1] - b[0] * a[1] for a, b in zip(pts, pts[1:] + pts[:1]))
    if area > 0:
        pts = pts[::-1]
    return pts + pts[:1]


def text(x, y, s, size, family, color="black", anchor="left", weight=None):
    # annotation boxes carry about 2px of padding
    x = x - 2 if anchor == "left" else x + 2
    fig.add_annotation(x=px(x), y=py(y), xref="paper", yref="paper", text=s, showarrow=False,
                       xanchor=anchor, yanchor="middle", align=anchor,
                       font=dict(size=size, family=family, color=color, weight=weight))


fig = go.Figure()

for name, rings in OUTLINES.items():
    lons, lats = [], []
    for ring in rings:
        pts = ring_coords(ring)
        lons += [p[0] for p in pts] + [None]
        lats += [p[1] for p in pts] + [None]
    fig.add_trace(go.Scattergeo(
        lon=lons[:-1], lat=lats[:-1], mode="lines", name=name, hoverinfo="name",
        line=dict(color="white", width=0.8),
        fill="toself", fillcolor=country_color(CHANGE[name]),
    ))

# legend ramps, x stops half a cell short so the gap between them survives
ramp = [i / 40 for i in range(41)]
fig.add_trace(go.Heatmap(x=[0.006 + r * 0.48 for r in ramp], y=[0, 1], z=[ramp, ramp], colorscale=[[0, "#0c3060"], [1, "#42b6f5"]],
                         showscale=False, hoverinfo="skip"))
fig.add_trace(go.Heatmap(x=[0.514 + r * 0.48 for r in ramp], y=[0, 1], z=[ramp, ramp], colorscale=WORSEN_SCALE,
                         showscale=False, hoverinfo="skip"))

shapes = [dict(type="rect", xref="paper", yref="paper", x0=0, x1=1, y0=py(156), y1=1, fillcolor="black", line_width=0, layer="above")]
for leader in LEADERS:
    path = "M" + " L".join(f"{px(x)},{py(y)}" for x, y in leader)
    shapes.append(dict(type="path", xref="paper", yref="paper", path=path, line=dict(color="black", width=1.3), layer="above"))
    x, y = leader[0]
    shapes.append(dict(type="circle", xref="paper", yref="paper", x0=px(x - 4), x1=px(x + 4), y0=py(y + 4), y1=py(y - 4),
                       fillcolor="black", line_width=0, layer="above"))

for cx, color, up in zip(CIRCLE_X, STORY_COLORS, STORY_UP):
    shapes.append(dict(type="circle", xref="paper", yref="paper", x0=px(cx - 19), x1=px(cx + 19), y0=py(855), y1=py(817),
                       fillcolor=color, line_width=0, layer="above"))
    tip = 831 if up else 841
    wing = 841 if up else 831
    path = f"M{px(cx - 9)},{py(wing)} L{px(cx)},{py(tip)} L{px(cx + 9)},{py(wing)}"
    shapes.append(dict(type="path", xref="paper", yref="paper", path=path, line=dict(color="white", width=4), layer="above"))

fig.update_layout(
    width=W, height=H, margin=dict(l=0, r=0, t=0, b=0), showlegend=False,
    paper_bgcolor="white", plot_bgcolor="rgba(0,0,0,0)", shapes=shapes,
    xaxis=dict(domain=[px(789), px(1110)], range=[0, 1], visible=False),
    yaxis=dict(domain=[py(231), py(219)], range=[0, 1], visible=False),
    # plotly clips the map to the fitted world box, so the domain is centred where that box has to sit
    geo=dict(
        visible=False, bgcolor="rgba(0,0,0,0)", domain=dict(x=[0, 1], y=[py(868), py(200)]),
        projection=dict(type="robinson", scale=1.1511, rotation=dict(lon=0)),
        center=dict(lon=13.54, lat=9.9),
    ),
)

text(47, 75, "Press Freedom in the Era of Coronavirus", 67.9, "Liberation Serif", color="white")
text(37, 198, "Press freedom changes from 2019 to 2020", 34.3, "Noto Sans")
text(792, 200, "Improving", 24, "Lato")
text(1108, 200, "Worsening", 24, "Lato", anchor="right")

for i, name in enumerate(STORY_NAMES):
    text(NAME_X[i], 836, name, 25, "Lato", color=STORY_COLORS[i], weight=700)
    for y, line in zip(BODY_Y, STORY_TEXT[i]):
        text(BODY_X[i], y, line, 19.3, "Lato")

text(44, 1056, "Subscribe to our global politics newsletter Signal at gzeromedia.com", 22.7, "Noto Sans", weight=700)
text(44, 1087, "Source: 2019 + 2020 World Press Freedom Index", 23.1, "Noto Sans")
text(1158, 1073, "GZERO", 53, "Inter", anchor="right", weight=900)

# the default page keeps an 8px body margin that would push the figure off its 1200x1138 frame
fig.write_html("out.html", config={"displayModeBar": False}, post_script="document.body.style.margin = '0';")
